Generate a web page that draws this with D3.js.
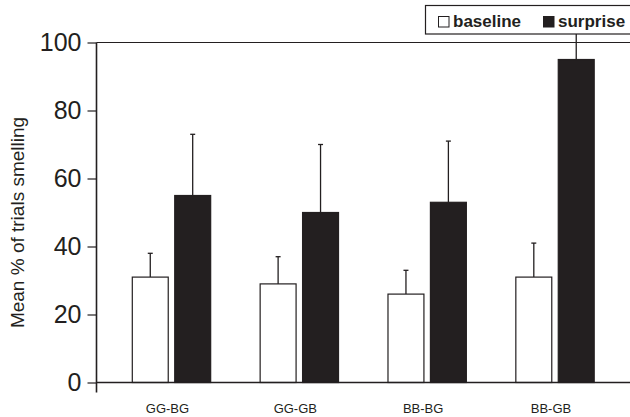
<!DOCTYPE html>
<html>
<head>
<meta charset="utf-8">
<script src="https://cdn.jsdelivr.net/npm/d3@7"></script>
<style>
  body { margin: 0; background: #fff; }
  #graph { width: 630px; height: 417px; }
  text { font-family: "Liberation Sans", Arial, sans-serif; fill: #231f20; }
</style>
</head>
<body>
<div id="graph"></div>
<script>
var categories = ["GG-BG", "GG-GB", "BB-BG", "BB-GB"];
var seriesNames = ["baseline", "surprise"];
var baseline = [31, 29, 26, 31];
var surprise = [55, 50, 53, 95];
var baselineErr = [7, 8, 7, 10];
var surpriseErr = [18, 20, 18, 13];
var yTicks = [0, 20, 40, 60, 80, 100];

var margin = { top: 42.5, right: 0, bottom: 33, left: 96.5 },
    width = 630 - margin.left - margin.right,
    height = 417 - margin.top - margin.bottom;

var ink = "#231f20";

var svg = d3.select("#graph").append("svg")
    .attr("width", 630)
    .attr("height", 417)
    .append("g")
    .attr("transform", "translate(" + margin.left + "," + margin.top + ")");

// scales
var x0 = d3.scaleBand()
    .domain(categories)
    .range([0, width])
    .paddingInner(0.387)
    .paddingOuter(0.28);
var x1 = d3.scaleBand()
    .domain(seriesNames)
    .range([0, x0.bandwidth()])
    .paddingInner(0.153);
var y = d3.scaleLinear()
    .domain([0, 100])
    .range([height - 1.5, 0]);

var rows = categories.map((c, i) => ({
    cat: c,
    vals: [
        { key: "baseline", v: baseline[i], e: baselineErr[i] },
        { key: "surprise", v: surprise[i], e: surpriseErr[i] }
    ]
}));

var groups = svg.selectAll(".grp")
    .data(rows)
    .enter().append("g")
    .attr("class", "grp")
    .attr("transform", d => "translate(" + x0(d.cat) + ",0)");

var bars = groups.selectAll(".bar")
    .data(d => d.vals)
    .enter().append("g")
    .attr("class", "bar");

// error bars (drawn first so bars sit over them)
bars.append("line")
    .attr("x1", d => x1(d.key) + x1.bandwidth() / 2)
    .attr("x2", d => x1(d.key) + x1.bandwidth() / 2)
    .attr("y1", d => y(d.v))
    .attr("y2", d => y(d.v + d.e))
    .attr("stroke", ink)
    .attr("stroke-width", 1.3);
bars.append("line")
    .attr("x1", d => x1(d.key) + x1.bandwidth() / 2 - 2.5)
    .attr("x2", d => x1(d.key) + x1.bandwidth() / 2 + 2.5)
    .attr("y1", d => y(d.v + d.e))
    .attr("y2", d => y(d.v + d.e))
    .attr("stroke", ink)
    .attr("stroke-width", 1.3);

bars.append("rect")
    .attr("x", d => x1(d.key))
    .attr("width", x1.bandwidth())
    .attr("y", d => y(d.v))
    .attr("height", d => y(0) - y(d.v))
    .attr("fill", d => d.key === "baseline" ? "#fff" : ink)
    .attr("stroke", ink)
    .attr("stroke-width", 1.2);

// y axis
var yAxis = svg.append("g")
    .call(d3.axisLeft(y).tickValues(yTicks).tickSize(9).tickPadding(6));
yAxis.select(".domain").remove();
yAxis.selectAll(".tick line").attr("stroke", ink).attr("stroke-width", 1.2);
yAxis.selectAll(".tick text")
    .style("font-size", "25px")
    .attr("fill", ink);
svg.append("line")
    .attr("x1", 0).attr("x2", 0)
    .attr("y1", y(100)).attr("y2", y(0) + 10)
    .attr("stroke", ink).attr("stroke-width", 1.6);

// x axis line and the top frame line
svg.append("line")
    .attr("x1", 0).attr("x2", width)
    .attr("y1", y(0)).attr("y2", y(0))
    .attr("stroke", ink).attr("stroke-width", 1.4);
svg.append("line")
    .attr("x1", 0).attr("x2", width)
    .attr("y1", y(100)).attr("y2", y(100))
    .attr("stroke", ink).attr("stroke-width", 1.2);

// category labels
svg.selectAll(".cat")
    .data(categories)
    .enter().append("text")
    .attr("class", "cat")
    .attr("x", d => x0(d) + x0.bandwidth() / 2 - 4)
    .attr("y", y(0) + 30)
    .attr("text-anchor", "middle")
    .style("font-size", "13px")
    .text(d => d);

// y title
svg.append("text")
    .attr("transform", "translate(" + (-73) + "," + (y(50) + 10) + ") rotate(-90)")
    .attr("text-anchor", "middle")
    .style("font-size", "19px")
    .text("Mean % of trials smelling");

// legend
var legend = d3.select("#graph svg").append("g");
legend.append("rect")
    .attr("x", 425.5).attr("y", 5.5)
    .attr("width", 210).attr("height", 28.5)
    .attr("fill", "#fff")
    .attr("stroke", ink).attr("stroke-width", 1.2);
var legendItems = [
    { key: "baseline", x: 438 },
    { key: "surprise", x: 543 }
];
legendItems.forEach(function (it) {
    legend.append("rect")
        .attr("x", it.x + 0.5).attr("y", 16.5)
        .attr("width", 10.5).attr("height", 10.5)
        .attr("fill", it.key === "baseline" ? "#fff" : ink)
        .attr("stroke", ink).attr("stroke-width", 1);
    legend.append("text")
        .attr("x", it.x + 15).attr("y", 27)
        .style("font-size", "17px")
        .style("font-weight", "bold")
        .text(it.key);
});
</script>
</body>
</html>
